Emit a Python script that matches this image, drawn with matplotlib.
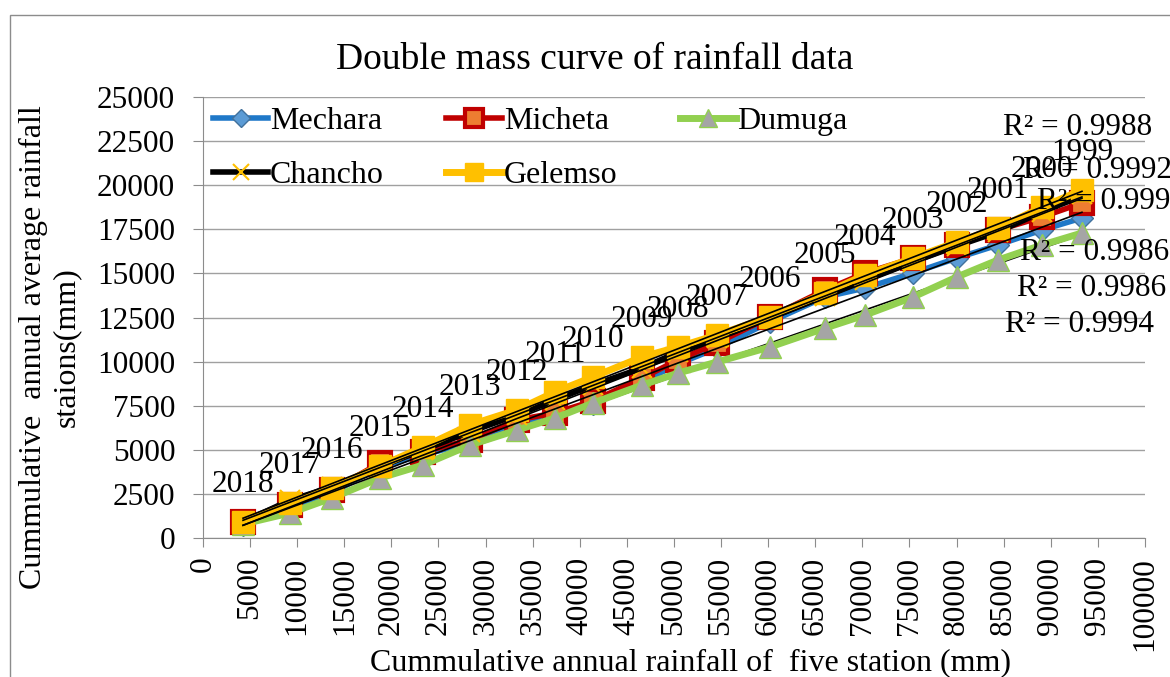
import numpy as np
import matplotlib.pyplot as plt
from matplotlib.patches import Rectangle

plt.rcParams['font.family'] = ['Liberation Serif', 'DejaVu Serif']

years = ['2018', '2017', '2016', '2015', '2014', '2013', '2012', '2011', '2010', '2009',
         '2008', '2007', '2006', '2005', '2004', '2003', '2002', '2001', '2000', '1999']

# cumulative rainfall of the five stations (x)
x_cum = [4250, 9240, 13690, 18790, 23360, 28340, 33330, 37370, 41400, 46600,
         50430, 54570, 60190, 66030, 70280, 75370, 80040, 84400, 89070, 93310]

mechara = [740, 1700, 2550, 4030, 4710, 5390, 6460, 6920, 7600, 8840,
           9860, 10770, 12250, 13660, 14170, 15020, 15870, 16610, 17460, 18140]
micheta = [910, 1870, 2720, 4250, 4880, 5560, 6690, 7090, 7770, 9070,
           10090, 11050, 12530, 14060, 15020, 15870, 16610, 17460, 18200, 18990]
dumuga = [790, 1420, 2270, 3400, 4140, 5270, 6120, 6800, 7650, 8670,
          9350, 9980, 10830, 11900, 12640, 13660, 14800, 15760, 16610, 17290]
chancho = [910, 2150, 2890, 4030, 4990, 6010, 6970, 7820, 8670, 9640,
           10540, 11340, 12470, 13720, 14630, 15650, 16550, 17350, 18480, 19500]
gelemso = [910, 1980, 2830, 4080, 5160, 6410, 7260, 8280, 9130, 10260,
           10830, 11510, 12530, 13890, 14910, 15870, 16780, 17570, 18760, 19730]

r2_text = ['R² = 0.9988', 'R² = 0.9992', 'R² = 0.999', 'R² = 0.9986', 'R² = 0.9986', 'R² = 0.9994']
r2_x = [84900, 87050, 88550, 86750, 86400, 85150]
r2_y = [23250, 20850, 19050, 16200, 14150, 12080]

FS = 22.5

fig = plt.figure(figsize=(11.7, 6.77), dpi=100)
ax = fig.add_axes([0.1735, 0.2053, 0.8051, 0.6514])

series = [
    ('Mechara', mechara, dict(color='#1F78C8', lw=4, marker='D', ms=11, mfc='#5B9BD5', mec='#41719C', mew=1)),
    ('Micheta', micheta, dict(color='#C00000', lw=4, marker='s', ms=16, mfc='#ED7D31', mec='#C00000', mew=3)),
    ('Dumuga', dumuga, dict(color='#92D050', lw=5, marker='^', ms=16, mfc='#A5A5A5', mec='#92D050', mew=1)),
    ('Chancho', chancho, dict(color='black', lw=4, marker='x', ms=14, mec='#FFC000', mew=1.5)),
    ('Gelemso', gelemso, dict(color='#FFC000', lw=5, marker='s', ms=16, mfc='#FFC000', mec='#FFC000', mew=1)),
]

handles = {}
for name, vals, st in series:
    h, = ax.plot(x_cum, vals, label=name, zorder=3, **st)
    handles[name] = h

# linear trendlines (the Dumuga one sits under its own thick line)
xs = np.array([min(x_cum), max(x_cum)])
for name, vals, st in series:
    k, b = np.polyfit(x_cum, vals, 1)
    z = 2 if name == 'Dumuga' else 4
    ax.plot(xs, k * xs + b, color='black', lw=1.2, zorder=z)

# year labels above Gelemso points
for yr, xv, yv in zip(years, x_cum, gelemso):
    ax.annotate(yr, (xv, yv), xytext=(0, 27), textcoords='offset points',
                ha='center', va='center', fontsize=FS, zorder=5)

for t, xv, yv in zip(r2_text, r2_x, r2_y):
    ax.text(xv, yv, t, fontsize=FS, ha='left', va='center', clip_on=False, zorder=5)

ax.set_xlim(0, 100000)
ax.set_ylim(0, 25000)
ax.set_xticks(np.arange(0, 100001, 5000))
ax.set_yticks(np.arange(0, 25001, 2500))
ax.tick_params(axis='x', labelrotation=90, labelsize=FS, length=6.5, color='#8c8c8c', pad=7)
ax.tick_params(axis='y', labelsize=FS, length=7, color='#8c8c8c', pad=13)
ax.yaxis.grid(True, color='#a0a0a0', lw=1)
ax.set_axisbelow(True)
for s in ['top', 'right']:
    ax.spines[s].set_visible(False)
for s in ['left', 'bottom']:
    ax.spines[s].set_color('#8c8c8c')

fig.text(0.59, 1 - 663 / 677, 'Cummulative annual rainfall of  five station (mm)',
         fontsize=23, ha='center', va='center')
fig.text(50 / 1170, 1 - 347 / 677, 'Cummulative  annual average rainfall\nstaions(mm)',
         fontsize=23, rotation=90, ha='center', va='center', linespacing=1.2,
         multialignment='center')
fig.text(0.508, 1 - 60 / 677, 'Double mass curve of rainfall data', fontsize=27,
         ha='center', va='center')

order = ['Mechara', 'Chancho', 'Micheta', 'Gelemso', 'Dumuga']
ax.legend([handles[n] for n in order], order, ncol=3, loc='upper left',
          bbox_to_anchor=(0.0, 1.0), frameon=False, fontsize=23, numpoints=1,
          handlelength=1.75, handletextpad=0.05, columnspacing=1.95,
          labelspacing=0.77, borderaxespad=0.0, borderpad=0.3, markerscale=0.8)

fig.add_artist(Rectangle((10 / 1170, -0.05), 1.2, 1.05 - 15 / 677, transform=fig.transFigure,
                         fill=False, edgecolor='#8c8c8c', lw=1))

fig.savefig('out.png', dpi=100)
